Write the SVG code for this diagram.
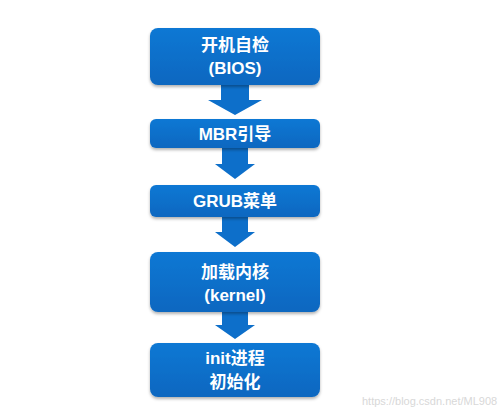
<svg xmlns="http://www.w3.org/2000/svg" width="500" height="413" viewBox="0 0 500 413">
<defs>
<linearGradient id="g" x1="0" y1="0" x2="0" y2="1">
<stop offset="0" stop-color="#1178d4"/>
<stop offset="1" stop-color="#0a67c0"/>
</linearGradient>
<filter id="sh" x="-10%" y="-20%" width="120%" height="150%">
<feDropShadow dx="0" dy="2" stdDeviation="1.5" flood-color="#000" flood-opacity="0.3"/>
</filter>
</defs>
<style>
.box{fill:url(#g);filter:url(#sh)}
.arr{fill:#0d6fca}
.t{fill:#fff;font-family:"Liberation Sans","Noto Sans CJK SC",sans-serif;font-weight:bold;font-size:17px;text-anchor:middle;dominant-baseline:central}
.wm{fill:#d8d8d8;font-family:"Liberation Sans",sans-serif;font-size:11px}
</style>
<rect width="500" height="413" fill="#fff"/>
<g id="connectors">
<path class="arr" d="M221,84 H249 V100 H262 L235,115 L208,100 H221 Z"/>
<path class="arr" d="M222,147 H248 V164 H255 L235,179 L215,164 H222 Z"/>
<path class="arr" d="M222,216 H248 V232 H255 L235,247 L215,232 H222 Z"/>
<path class="arr" d="M222,311 H248 V325 H255 L235,339 L215,325 H222 Z"/>
</g>
<g id="n1"><rect class="box" x="150" y="28" width="170" height="57" rx="8"/>
<text class="t" x="235" y="45">开机自检</text><text class="t" x="235" y="68">(BIOS)</text></g>
<g id="n2"><rect class="box" x="150" y="119" width="170" height="29" rx="6"/>
<text class="t" x="235" y="134">MBR引导</text></g>
<g id="n3"><rect class="box" x="150" y="185" width="170" height="32" rx="6"/>
<text class="t" x="235" y="201">GRUB菜单</text></g>
<g id="n4"><rect class="box" x="150" y="252" width="170" height="60" rx="8"/>
<text class="t" x="235" y="272">加载内核</text><text class="t" x="235" y="295">(kernel)</text></g>
<g id="n5"><rect class="box" x="150" y="343" width="170" height="54" rx="8"/>
<text class="t" x="235" y="358">init进程</text><text class="t" x="235" y="382">初始化</text></g>
<text class="wm" x="362" y="405">https://blog.csdn.net/ML908</text>
</svg>
